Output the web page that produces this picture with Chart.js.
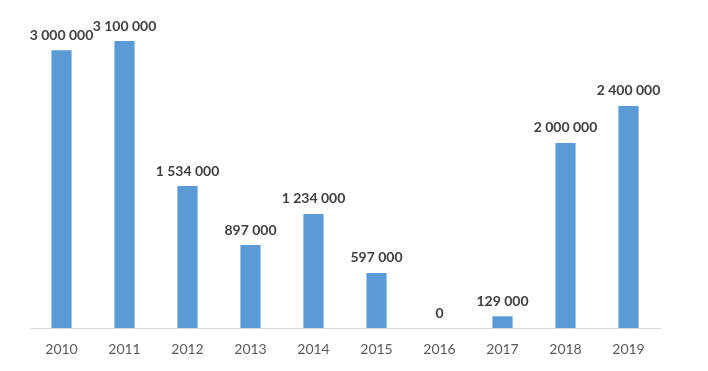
<!DOCTYPE html>
<html>
<head>
<meta charset="utf-8">
<script src="https://cdn.jsdelivr.net/npm/chart.js@4/dist/chart.umd.min.js"></script>
<style>
  html, body { margin: 0; padding: 0; background: #fff; }
  #wrap { width: 708px; height: 371px; }
</style>
</head>
<body>
<div id="wrap"><canvas id="barChart"></canvas></div>
<script>
// data
const years = ["2010", "2011", "2012", "2013", "2014", "2015", "2016", "2017", "2018", "2019"];
const amounts = [3000000, 3100000, 1534000, 897000, 1234000, 597000, 0, 129000, 2000000, 2400000];

function fmtSpace(n) {
  return String(n).replace(/\B(?=(\d{3})+(?!\d))/g, " ");
}

// draws the value above each bar
const valueLabels = {
  id: "valueLabels",
  afterDatasetsDraw(chart) {
    const ctx = chart.ctx;
    const meta = chart.getDatasetMeta(0);
    ctx.save();
    ctx.font = "bold 14px Lato, 'Open Sans', sans-serif";
    ctx.fillStyle = "#404040";
    ctx.textAlign = "center";
    ctx.textBaseline = "bottom";
    meta.data.forEach((bar, i) => {
      ctx.fillText(fmtSpace(amounts[i]), bar.x, bar.y - 8);
    });
    ctx.restore();
  }
};

new Chart(document.getElementById("barChart"), {
  type: "bar",
  data: {
    labels: years,
    datasets: [{
      data: amounts,
      backgroundColor: "#5B9BD5",
      barPercentage: 0.32,
      categoryPercentage: 1.0
    }]
  },
  options: {
    responsive: true,
    maintainAspectRatio: false,
    animation: false,
    layout: { padding: { left: 30, right: 48, top: 4, bottom: 0 } },
    plugins: {
      legend: { display: false },
      tooltip: { enabled: false }
    },
    scales: {
      x: {
        grid: { display: false, drawTicks: false },
        border: { color: "#d9d9d9", width: 1 },
        ticks: {
          color: "#595959",
          font: { size: 14, family: "Lato, 'Open Sans', sans-serif" },
          padding: 13
        }
      },
      y: {
        display: false,
        min: 0,
        max: 3500000
      }
    }
  },
  plugins: [valueLabels]
});
</script>
</body>
</html>
